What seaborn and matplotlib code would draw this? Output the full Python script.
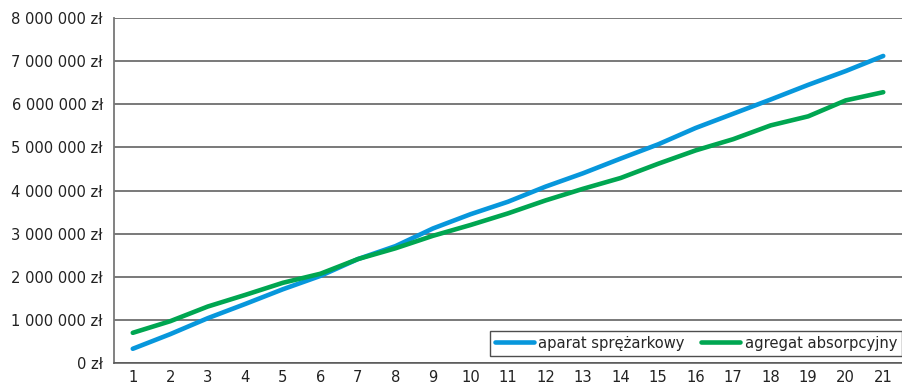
import matplotlib
matplotlib.use("Agg")
import matplotlib.pyplot as plt
from matplotlib.ticker import FuncFormatter, FixedLocator
import seaborn as sns
import pandas as pd

# Years of operation
years = list(range(1, 22))

# Cumulative cost in zł
aparat_sprezarkowy = [330000, 670000, 1040000, 1370000, 1710000, 2020000, 2410000,
                      2710000, 3120000, 3450000, 3740000, 4090000, 4400000, 4740000,
                      5070000, 5450000, 5780000, 6110000, 6450000, 6770000, 7120000]
agregat_absorpcyjny = [700000, 970000, 1310000, 1580000, 1860000, 2070000, 2410000,
                       2660000, 2950000, 3200000, 3470000, 3770000, 4040000, 4290000,
                       4620000, 4930000, 5190000, 5510000, 5720000, 6090000, 6280000]

series_names = ["aparat sprężarkowy", "agregat absorpcyjny"]
series_colors = ["#0797dc", "#00a651"]

df = pd.DataFrame({
    "rok": years * 2,
    "koszt": aparat_sprezarkowy + agregat_absorpcyjny,
    "wariant": [series_names[0]] * len(years) + [series_names[1]] * len(years),
})

sns.set_style("white")
plt.rcParams["font.family"] = ["DejaVu Sans", "Liberation Sans"]
plt.rcParams["font.stretch"] = "condensed"

FS = 11.8

fig = plt.figure(figsize=(9.02, 3.90), dpi=100)
ax = fig.add_axes([0.1264, 0.0692, 0.8736, 0.8846])

sns.lineplot(data=df, x="rok", y="koszt", hue="wariant", hue_order=series_names,
             palette=series_colors, linewidth=3.3, ax=ax, legend=True,
             solid_capstyle="round")

ax.set_xlim(0.5, 21.5)
ax.set_ylim(0, 8000000)

# y axis: gridlines every million
ax.yaxis.set_major_locator(FixedLocator([i * 1000000 for i in range(9)]))
ax.yaxis.set_major_formatter(FuncFormatter(
    lambda v, p: f"{int(v):,} zł".replace(",", " ")))
ax.grid(axis="y", color="#555555", linewidth=1.1)
ax.set_axisbelow(True)

# x axis: labels centred on categories, ticks between categories
ax.xaxis.set_major_locator(FixedLocator(years))
ax.set_xticklabels([str(y) for y in years])
ax.xaxis.set_minor_locator(FixedLocator([y + 0.5 for y in range(0, 21)]))
ax.tick_params(axis="x", which="major", length=0, pad=5, labelsize=FS, colors="#222222")
ax.tick_params(axis="x", which="minor", length=6, width=1, color="#666666", direction="out")
ax.tick_params(axis="y", which="major", length=4, width=1, color="#555555",
               direction="out", pad=4, labelsize=FS, labelcolor="#222222")

for side in ("top", "right"):
    ax.spines[side].set_visible(False)
ax.spines["left"].set_color("#777777")
ax.spines["left"].set_linewidth(1.3)
ax.spines["bottom"].set_color("#555555")
ax.spines["bottom"].set_linewidth(1.1)

ax.set_xlabel("")
ax.set_ylabel("")

leg = ax.legend(loc="lower right", bbox_to_anchor=(1.0, 0.02), ncol=2,
                frameon=True, fancybox=False, fontsize=FS, handlelength=2.4,
                handletextpad=0.25, columnspacing=1.0, borderpad=0.3,
                borderaxespad=0.0)
leg.get_frame().set_edgecolor("#222222")
leg.get_frame().set_linewidth(1.0)
for line in leg.get_lines():
    line.set_linewidth(3.3)

fig.savefig("out.png", dpi=100)
